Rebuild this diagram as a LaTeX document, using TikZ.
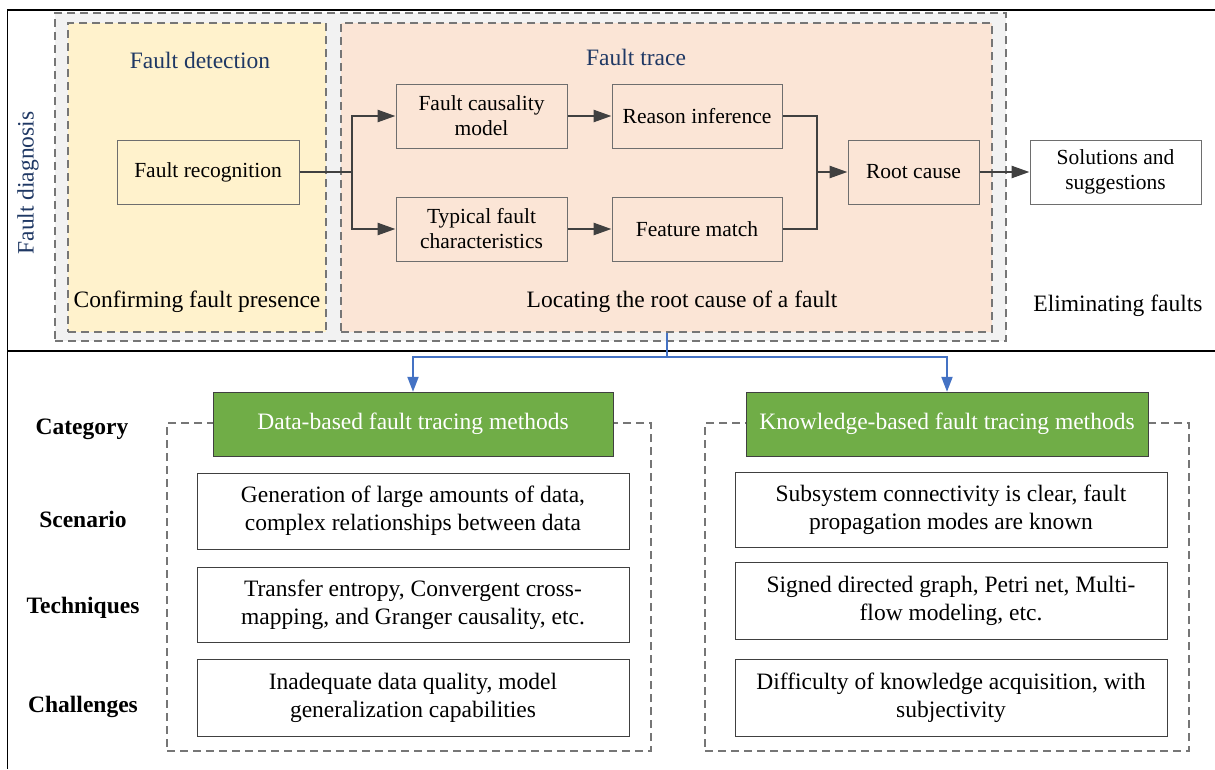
\documentclass[tikz,border=0pt]{standalone}
\usepackage{fontspec}
\setmainfont{Liberation Serif}
\usetikzlibrary{positioning, arrows.meta}
\definecolor{NavyText}{RGB}{31,56,100}
\definecolor{PanelGray}{RGB}{242,242,242}
\definecolor{DetectFill}{RGB}{255,242,204}
\definecolor{TraceFill}{RGB}{251,229,214}
\definecolor{MethodGreen}{RGB}{112,173,71}
\definecolor{LinkBlue}{RGB}{68,114,196}
\definecolor{FlowGray}{RGB}{64,64,64}
\definecolor{DashGray}{RGB}{118,118,118}
\definecolor{EdgeGray}{RGB}{110,110,110}

\begin{document}
\begin{tikzpicture}[x=1pt, y=-1pt,
    stagebox/.style={draw=DashGray, dash pattern=on 8pt off 5pt, line width=1.1pt, inner sep=0pt},
    flowbox/.style={draw=EdgeGray, line width=1pt, minimum width=171pt, minimum height=64pt, inner sep=0pt, align=center, font=\fontsize{21.5}{25}\selectfont},
    methodbox/.style={draw=FlowGray, fill=MethodGreen, text=white, minimum height=64pt, inner sep=0pt, font=\fontsize{23.5}{28}\selectfont},
    itembox/.style={draw=FlowGray, fill=white, line width=1pt, minimum width=432pt, inner sep=0pt, align=center, font=\fontsize{23.5}{28}\selectfont},
    rowlabel/.style={font=\fontsize{23.5}{28}\selectfont\bfseries},
    plain/.style={font=\fontsize{23.5}{28}\selectfont},
    heading/.style={text=NavyText, font=\fontsize{23.5}{28}\selectfont},
    flow/.style={draw=FlowGray, line width=2.6pt},
    link/.style={draw=LinkBlue, line width=2pt, -{Triangle[length=15pt, width=11pt]}}]
  \useasboundingbox (0,0) rectangle (1215,769);

  % frame
  \draw[line width=1.5pt] (1215,10) -- (7.5,10) -- (7.5,769);
  \draw[line width=1.5pt] (7.5,351) -- (1215,351);
  \node[heading, rotate=90] (diag) at (28,183) {Fault diagnosis};

  % stages
  \node[stagebox, fill=PanelGray, minimum width=951pt, minimum height=328pt] (panel) at (530.5,177) {};
  \node[stagebox, fill=DetectFill, minimum width=258pt, minimum height=309pt] (detect) at (197,177.5) {};
  \node[stagebox, fill=TraceFill, minimum width=651pt, minimum height=309pt] (trace) at (666.5,177.5) {};
  \node[heading] (detecttitle) at (200,60) {Fault detection};
  \node[heading] (tracetitle) at (636,57) {Fault trace};
  \node[plain] (detectnote) at (197,302) {Confirming fault presence};
  \node[plain] (tracenote) at (682,302) {Locating the root cause of a fault};
  \node[plain] (elimnote) at (1118,306) {Eliminating faults};

  % fault trace flow
  \node[flowbox, minimum width=182pt] (recog) at (208,172) {Fault recognition};
  \node[flowbox] (causal) at (481.5,116) {Fault causality\\model};
  \node[flowbox] (typical) at (481.5,229) {Typical fault\\characteristics};
  \node[flowbox, minimum width=170pt] (reason) at (697,116) {Reason inference};
  \node[flowbox, minimum width=170pt] (match) at (697,229) {Feature match};
  \node[flowbox, minimum width=131pt] (root) at (913.5,172) {Root cause};
  \node[flowbox, fill=white] (solve) at (1115.5,172) {Solutions and\\suggestions};

  \coordinate (split) at (352,172);
  \coordinate (merge) at (817,172);
  \draw[flow] (recog.east) -- (split);
  \draw[flow, -{Triangle[length=18pt, width=12pt]}] (split) |- (causal.west);
  \draw[flow, -{Triangle[length=18pt, width=12pt]}] (split) |- (typical.west);
  \draw[flow, -{Triangle[length=18pt, width=12pt]}] (causal) -- (reason);
  \draw[flow, -{Triangle[length=18pt, width=12pt]}] (typical) -- (match);
  \draw[flow] (reason.east) -| (merge);
  \draw[flow] (match.east) -| (merge);
  \draw[flow, -{Triangle[length=18pt, width=12pt]}] (merge) -- (root.west);
  \draw[flow, -{Triangle[length=18pt, width=12pt]}] (root) -- (solve);

  % method categories
  \node[stagebox, minimum width=484pt, minimum height=328pt] (databox) at (409,587) {};
  \node[stagebox, minimum width=484pt, minimum height=328pt] (knowbox) at (947,587) {};
  \node[methodbox, minimum width=400pt] (data) at (413,424) {Data-based fault tracing methods};
  \node[methodbox, minimum width=402pt] (know) at (947,424) {Knowledge-based fault tracing methods};

  \draw[link] (trace.south) |- (413,357) -- (data.north);
  \draw[link] (trace.south) |- (947,357) -- (know.north);

  \node[rowlabel] (category) at (82,429) {Category};
  \node[rowlabel] (scenario) at (83,519) {Scenario};
  \node[rowlabel] (technique) at (83,608) {Techniques};
  \node[rowlabel] (challenge) at (83,707) {Challenges};

  \node[itembox, minimum height=76pt] (datascene) at (413,511) {Generation of large amounts of data,\\complex relationships between data};
  \node[itembox, minimum height=75pt] (datatech) at (413,604.5) {Transfer entropy, Convergent cross-\\mapping, and Granger causality, etc.};
  \node[itembox, minimum height=77pt] (datachal) at (413,697.5) {Inadequate data quality, model\\generalization capabilities};
  \node[itembox, minimum height=75pt] (knowscene) at (951,509.5) {Subsystem connectivity is clear, fault\\propagation modes are known};
  \node[itembox, minimum height=77pt] (knowtech) at (951,600.5) {Signed directed graph, Petri net, Multi-\\flow modeling, etc.};
  \node[itembox, minimum height=77pt] (knowchal) at (951,697.5) {Difficulty of knowledge acquisition, with\\subjectivity};
\end{tikzpicture}
\end{document}
